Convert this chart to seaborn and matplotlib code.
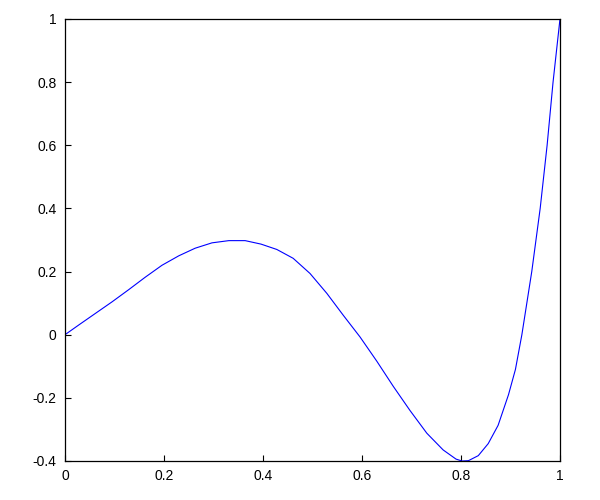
import matplotlib
matplotlib.use("Agg")
import matplotlib.pyplot as plt
from matplotlib.ticker import FuncFormatter
import seaborn as sns
import pandas as pd

### curve values
x_vals = [0.0, 0.028, 0.061, 0.095, 0.129, 0.162, 0.196, 0.230, 0.263, 0.297,
          0.331, 0.364, 0.396, 0.428, 0.461, 0.495, 0.529, 0.562, 0.596, 0.630,
          0.663, 0.697, 0.731, 0.764, 0.790, 0.802, 0.815, 0.835, 0.855, 0.875,
          0.896, 0.910, 0.923, 0.943, 0.960, 0.974, 0.986, 1.0]
y_vals = [0.0, 0.031, 0.067, 0.104, 0.143, 0.182, 0.220, 0.250, 0.274, 0.291,
          0.298, 0.298, 0.287, 0.270, 0.242, 0.194, 0.131, 0.062, -0.007, -0.084,
          -0.163, -0.240, -0.312, -0.365, -0.394, -0.400, -0.399, -0.383, -0.345, -0.287,
          -0.190, -0.110, 0.0, 0.200, 0.400, 0.600, 0.800, 1.0]
x_ticks = [0, 0.2, 0.4, 0.6, 0.8, 1]
y_ticks = [-0.4, -0.2, 0, 0.2, 0.4, 0.6, 0.8, 1]

df = pd.DataFrame({'x': x_vals, 'y': y_vals})

sns.set_style('white')
plt.rcParams['font.family'] = ['Liberation Sans', 'DejaVu Sans']
plt.rcParams['axes.unicode_minus'] = False

fig = plt.figure(figsize=(6, 5), dpi=100)
ax = fig.add_axes([0.1083, 0.078, 0.825, 0.884])

sns.lineplot(data=df, x='x', y='y', color='#0000ff', linewidth=0.8, ax=ax)

ax.set_xlim(0, 1)
ax.set_ylim(-0.4, 1)
ax.set_xticks(x_ticks)
ax.set_yticks(y_ticks)
fmt = FuncFormatter(lambda v, p: '%g' % round(v, 2))
ax.xaxis.set_major_formatter(fmt)
ax.yaxis.set_major_formatter(fmt)
ax.set_xlabel('')
ax.set_ylabel('')
ax.tick_params(direction='in', length=4, width=0.8, labelsize=10, colors='black',
               top=False, right=False, bottom=True, left=True, pad=6)
for s in ax.spines.values():
    s.set_color('black')
    s.set_linewidth(0.9)

fig.savefig('out.png', dpi=100)
